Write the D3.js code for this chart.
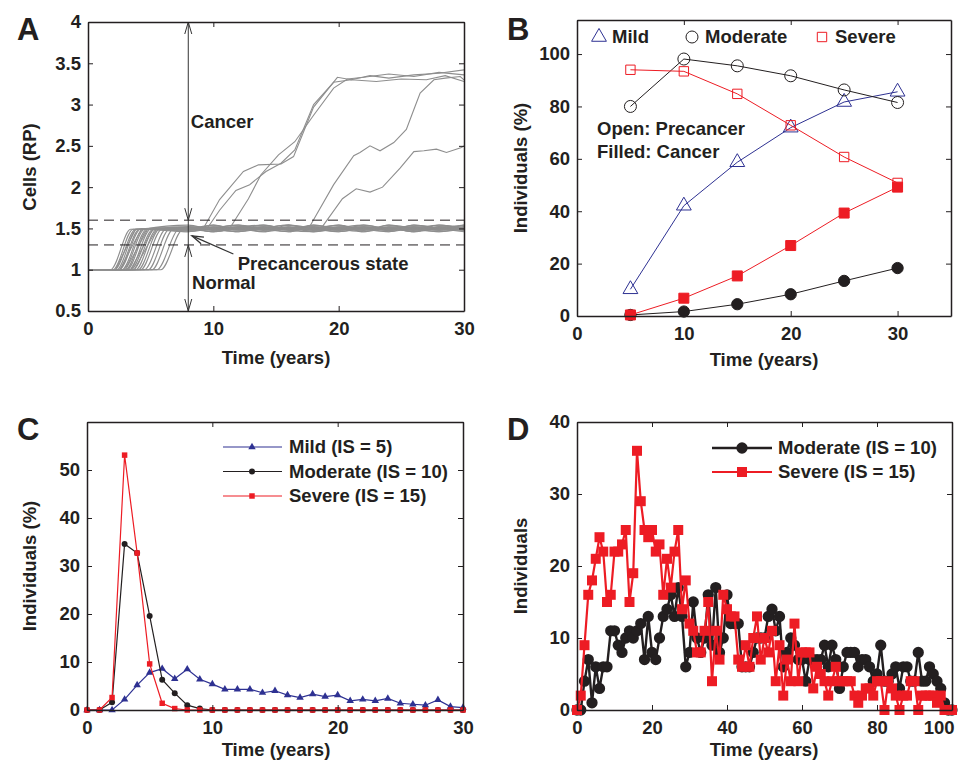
<!DOCTYPE html>
<html>
<head>
<meta charset="utf-8">
<script src="https://d3js.org/d3.v7.min.js"></script>
<style>
  body { margin: 0; background: #fff; }
  svg { font-family: "Liberation Sans", Arial, sans-serif; font-weight: bold; }
</style>
</head>
<body>
<div id="chart"></div>
<script>
// ---------- data ----------
// Panel A: precancer trajectories (rise from normal to the 1.5 plateau)
const riseStart = [1.8, 2.0, 2.1, 2.3, 2.4, 2.5, 2.7, 2.8, 3.0, 3.1, 3.3, 3.4, 3.6, 3.8, 4.0, 4.2, 4.5, 4.8, 5.1, 5.5, 5.8];
const riseEnd   = [3.4, 3.6, 3.8, 3.9, 4.1, 4.2, 4.4, 4.5, 4.7, 4.8, 5.0, 5.2, 5.3, 5.5, 5.7, 5.9, 6.2, 6.5, 6.8, 7.2, 7.6];
const plateauT  = [8, 10, 12, 14, 16, 18, 20, 22, 24, 26, 28, 30];
const plateauV = [
  [1.50,1.48,1.52,1.49,1.51,1.46,1.50,1.52,1.48,1.50,1.54,1.49],
  [1.48,1.51,1.49,1.52,1.48,1.50,1.54,1.49,1.51,1.46,1.50,1.52],
  [1.52,1.49,1.46,1.50,1.54,1.49,1.48,1.51,1.50,1.52,1.48,1.50],
  [1.49,1.52,1.50,1.46,1.50,1.52,1.49,1.46,1.54,1.49,1.51,1.48],
  [1.51,1.46,1.50,1.52,1.49,1.48,1.51,1.54,1.49,1.48,1.52,1.51],
  [1.46,1.50,1.54,1.49,1.46,1.51,1.50,1.48,1.52,1.51,1.49,1.54],
  [1.50,1.54,1.48,1.51,1.50,1.49,1.46,1.50,1.48,1.54,1.50,1.46],
  [1.54,1.49,1.51,1.48,1.52,1.50,1.52,1.49,1.46,1.50,1.48,1.51],
  [1.48,1.50,1.52,1.54,1.48,1.46,1.50,1.51,1.50,1.48,1.54,1.50],
  [1.51,1.48,1.49,1.50,1.46,1.54,1.49,1.48,1.52,1.49,1.46,1.52],
  [1.49,1.51,1.54,1.48,1.50,1.52,1.48,1.52,1.49,1.51,1.50,1.48],
  [1.50,1.46,1.50,1.51,1.54,1.48,1.51,1.50,1.46,1.52,1.51,1.49],
  [1.52,1.50,1.48,1.49,1.51,1.50,1.54,1.46,1.50,1.49,1.48,1.52],
  [1.46,1.52,1.51,1.50,1.49,1.54,1.50,1.49,1.51,1.46,1.52,1.50],
  [1.50,1.49,1.46,1.52,1.50,1.49,1.48,1.54,1.50,1.50,1.49,1.51],
  [1.49,1.51,1.50,1.48,1.52,1.46,1.52,1.50,1.48,1.54,1.50,1.48],
  [1.51,1.50,1.52,1.50,1.48,1.51,1.49,1.48,1.54,1.50,1.46,1.50],
  [1.48,1.54,1.49,1.51,1.50,1.49,1.51,1.52,1.49,1.48,1.51,1.54],
  [1.50,1.48,1.51,1.46,1.54,1.50,1.46,1.50,1.51,1.52,1.50,1.49],
  [1.52,1.50,1.49,1.54,1.49,1.48,1.50,1.49,1.50,1.46,1.52,1.50],
  [1.49,1.46,1.50,1.50,1.51,1.52,1.49,1.51,1.48,1.51,1.49,1.48]
];
// Panel A: trajectories that progress to cancer, [year, RP]
const cancerRuns = [
  [[0,1.0],[2.2,1.0],[3.0,1.25],[3.8,1.49],[6,1.5],[8,1.51],[9.2,1.5],[10.5,1.85],[12.4,2.19],[13.6,2.27],[15.4,2.28],[16.4,2.37],[18,2.97],[19.9,3.33],[21,3.30],[22.5,3.35],[24,3.32],[26,3.36],[28,3.38],[30,3.42]],
  [[0,1.0],[2.6,1.0],[3.4,1.25],[4.3,1.5],[7,1.5],[9.6,1.52],[10.5,1.72],[11.8,1.96],[12.9,2.03],[14.2,2.19],[15.4,2.29],[16.5,2.45],[18,3.0],[19.6,3.27],[21,3.3],[23,3.28],[25,3.31],[27,3.3],[28.5,3.35],[30,3.28]],
  [[0,1.0],[3.0,1.0],[3.9,1.25],[4.8,1.5],[8,1.5],[11.3,1.5],[12.8,1.86],[13.8,2.15],[15.2,2.39],[16.5,2.55],[18,2.87],[19.6,3.2],[20.7,3.31],[22,3.33],[24,3.37],[26,3.34],[28,3.39],[30,3.36]],
  [[0,1.0],[3.4,1.0],[4.3,1.25],[5.2,1.5],[9,1.5],[14,1.49],[17.6,1.5],[19.6,2.03],[21.2,2.38],[21.7,2.42],[22.5,2.5],[23.3,2.44],[24.4,2.54],[25.4,2.7],[26,2.94],[26.5,3.14],[27.6,3.3],[28.5,3.32],[29.7,3.34],[30,3.3]],
  [[0,1.0],[3.7,1.0],[4.6,1.25],[5.5,1.5],[10,1.5],[15,1.51],[18.6,1.5],[20.3,1.86],[21.4,1.98],[22.5,1.94],[23.5,2.0],[24.9,2.23],[26,2.43],[26.8,2.44],[27.8,2.46],[28.6,2.42],[29.8,2.48],[30,2.5]]
];
const cancerLine = 1.6, normalLine = 1.3, markYear = 8;

// Panel B: individuals (%) at each checkpoint
const yearsB = [5, 10, 15, 20, 25, 30];
const mildPre     = [10.2, 42.1, 58.7, 71.9, 81.7, 85.6];
const moderatePre = [80.0, 98.1, 95.5, 91.7, 86.3, 81.5];
const severePre   = [94.0, 93.4, 84.8, 72.8, 60.7, 50.8];
const moderateCan = [0.4, 1.7, 4.5, 8.3, 13.4, 18.3];
const severeCan   = [0.4, 6.8, 15.3, 26.9, 39.3, 49.2];

// Panel C: individuals (%) per year
const yearsC = d3.range(0, 31);
const mildC = [0,0,0,2.2,5.2,7.8,8.6,6.5,8.5,6.4,5.4,4.3,4.3,4.3,3.6,4.0,3.1,2.6,3.3,2.8,3.1,1.9,2.2,1.9,2.4,1.4,1.2,1.0,2.1,0.7,0.5];
const moderateC = [0,0,1.6,34.6,32.7,19.6,6.3,3.5,1.0,0.3,0,0,0,0,0,0,0,0,0,0,0,0,0,0,0,0,0,0,0,0,0];
const severeC = [0,0,2.6,53.1,32.7,9.6,1.4,0.3,0,0,0,0,0,0,0,0,0,0,0,0,0,0,0,0,0,0,0,0,0,0,0];

// Panel D: individuals per year
const yearsD = d3.range(0, 101);
const moderateD = [0,0,4,7,1,6,3,6,6,11, 11,9,8,10,11,10,11,12,7,13, 8,7,10,13,14,16,13,17,13,6,
  8,15,10,8,10,16,9,17,8,10, 16,12,12,12,6,6,6,8,10,10, 10,13,14,11,13,6,8,10,9,7,
  7,4,7,7,7,7,9,6,9,7, 3,6,8,8,8,6,7,7,6,4, 5,9,4,4,5,6,3,6,6,4, 4,8,4,4,6,5,4,3,1,0,0];
const severeD = [0,2,9,16,18,21,24,22,15,16, 22,22,23,25,15,19,36,29,25,24, 25,22,23,16,21,17,22,25,14,18,
  12,11,8,8,11,15,4,11,7,16, 14,13,13,7,6,9,6,10,13,7, 10,8,11,4,9,2,7,4,12,4,
  8,8,8,3,6,5,4,2,4,6, 4,4,4,4,2,1,2,3,3,2, 4,4,0,4,3,2,0,2,2,4, 4,0,2,2,2,2,1,2,0,0,0];

const ticksA = { x: [0, 10, 20, 30], y: [0.5, 1, 1.5, 2, 2.5, 3, 3.5, 4] };
const ticksB = { x: [0, 10, 20, 30], y: [0, 20, 40, 60, 80, 100] };
const ticksC = { x: [0, 10, 20, 30], y: [0, 10, 20, 30, 40, 50] };
const ticksD = { x: [0, 20, 40, 60, 80, 100], y: [0, 10, 20, 30, 40] };

// ---------- drawing ----------
const ink = "#231f20", red = "#ed1c24", blue = "#2e3192", grey = "#8e8e8e";

const svg = d3.select("#chart").append("svg").attr("width", 961).attr("height", 763);

const xA = d3.scaleLinear().domain([0, 30]).range([88, 464]);
const yA = d3.scaleLinear().domain([0.5, 4]).range([311, 22]);
const xB = d3.scaleLinear().domain([0, 35]).range([577, 951]);
const yB = d3.scaleLinear().domain([0, 113]).range([316, 20]);
const xC = d3.scaleLinear().domain([0, 30]).range([87, 463]);
const yC = d3.scaleLinear().domain([0, 60]).range([710, 422]);
const xD = d3.scaleLinear().domain([0, 100]).range([577, 952]);
const yD = d3.scaleLinear().domain([0, 40]).range([710, 422]);

function styleAxis(g) {
  g.attr("font-size", 18.5).attr("font-family", null).attr("font-weight", "bold");
  g.selectAll(".domain").attr("stroke", ink).attr("stroke-width", 1.5);
  g.selectAll(".tick line").attr("stroke", ink);
  g.selectAll(".tick text").attr("fill", ink);
}

function axesBox(x, y, ticks, yFmt) {
  const [x0, x1] = x.range(), [y0, y1] = y.range();
  const bottom = svg.append("g").attr("transform", "translate(0," + y0 + ")")
    .call(d3.axisBottom(x).tickValues(ticks.x).tickSize(-5).tickSizeOuter(0).tickPadding(11))
    .call(styleAxis);
  svg.append("g").attr("transform", "translate(0," + y1 + ")")
    .call(d3.axisTop(x).tickValues(ticks.x).tickSize(-5).tickSizeOuter(0).tickFormat(""))
    .call(styleAxis);
  svg.append("g").attr("transform", "translate(" + x0 + ",0)")
    .call(d3.axisLeft(y).tickValues(ticks.y).tickSize(-5).tickSizeOuter(0).tickPadding(7).tickFormat(yFmt || (d => d)))
    .call(styleAxis);
  svg.append("g").attr("transform", "translate(" + x1 + ",0)")
    .call(d3.axisRight(y).tickValues(ticks.y).tickSize(-5).tickSizeOuter(0).tickFormat(""))
    .call(styleAxis);
  return bottom;
}

function labels(letter, lx, ly, yTitle, tx, ty, xTitle, cx, cy) {
  svg.append("text").attr("x", lx).attr("y", ly).attr("font-size", 31).attr("fill", ink).text(letter);
  svg.append("text").attr("transform", "translate(" + tx + "," + ty + ") rotate(-90)")
    .attr("text-anchor", "middle").attr("dy", "0.35em").attr("font-size", 18.5).attr("fill", ink).text(yTitle);
  svg.append("text").attr("x", cx).attr("y", cy).attr("text-anchor", "middle").attr("dy", "0.35em")
    .attr("font-size", 18.5).attr("fill", ink).text(xTitle);
}

function arrowHead(g, x, y, dir, len, half) {
  // dir = -1 points up, +1 points down
  g.append("path")
    .attr("d", "M" + (x - half) + "," + (y - dir * len) + "L" + x + "," + y + "L" + (x + half) + "," + (y - dir * len))
    .attr("fill", "none").attr("stroke", "#333").attr("stroke-width", 1);
}

// ----- Panel A -----
const smoothA = d3.line().x(d => xA(d[0])).y(d => yA(d[1])).curve(d3.curveMonotoneX);
const lineA = d3.line().x(d => xA(d[0])).y(d => yA(d[1]));
const gA = svg.append("g");
riseStart.forEach((s, i) => {
  const pts = [[0, 1.0], [s, 1.0], [riseEnd[i], 1.49]].concat(plateauT.map((t, j) => [t, plateauV[i][j]]));
  gA.append("path").attr("d", smoothA(pts)).attr("fill", "none").attr("stroke", grey).attr("stroke-width", 1.1);
});
cancerRuns.forEach(run => {
  gA.append("path").attr("d", lineA(run)).attr("fill", "none").attr("stroke", grey).attr("stroke-width", 1.1);
});
[cancerLine, normalLine].forEach(v => {
  gA.append("line").attr("x1", xA(0)).attr("x2", xA(30)).attr("y1", yA(v)).attr("y2", yA(v))
    .attr("stroke", ink).attr("stroke-width", 1).attr("stroke-dasharray", "10,6");
});
const mx = xA(markYear);
gA.append("line").attr("x1", mx).attr("x2", mx).attr("y1", yA(4)).attr("y2", yA(0.5))
  .attr("stroke", "#333").attr("stroke-width", 1);
arrowHead(gA, mx, yA(4), -1, 12, 3.5);
arrowHead(gA, mx, yA(cancerLine), 1, 12, 3.5);
arrowHead(gA, mx, yA(normalLine), -1, 12, 3.5);
arrowHead(gA, mx, yA(0.5), 1, 12, 3.5);
// pointer to the precancerous plateau
const px0 = xA(11.6), py0 = yA(1.19), px1 = xA(8.3), py1 = yA(1.41);
gA.append("line").attr("x1", px0).attr("y1", py0).attr("x2", px1).attr("y2", py1).attr("stroke", "#333").attr("stroke-width", 1.3);
const ang = Math.atan2(py0 - py1, px0 - px1);
gA.append("path")
  .attr("d", "M" + (px1 + 12 * Math.cos(ang - 0.3)) + "," + (py1 + 12 * Math.sin(ang - 0.3)) +
             "L" + px1 + "," + py1 +
             "L" + (px1 + 12 * Math.cos(ang + 0.3)) + "," + (py1 + 12 * Math.sin(ang + 0.3)))
  .attr("fill", "none").attr("stroke", "#333").attr("stroke-width", 1.3);
gA.append("text").attr("x", xA(8.2)).attr("y", yA(2.79)).attr("dy", "0.35em").attr("font-size", 18.5).attr("fill", ink).text("Cancer");
gA.append("text").attr("x", xA(8.3)).attr("y", yA(0.85)).attr("dy", "0.35em").attr("font-size", 18.5).attr("fill", ink).text("Normal");
gA.append("text").attr("x", xA(11.95)).attr("y", yA(1.07)).attr("dy", "0.35em").attr("font-size", 18.5).attr("fill", ink).text("Precancerous state");
axesBox(xA, yA, ticksA);
labels("A", 17, 40, "Cells (RP)", 30, 167, "Time (years)", 276, 358);

// ----- Panel B -----
const lineB = d3.line().x((d, i) => xB(yearsB[i])).y(d => yB(d));
const gB = svg.append("g");
const seriesB = [
  { v: mildPre, color: blue, sym: d3.symbolTriangle, size: 95, filled: false },
  { v: moderatePre, color: ink, sym: d3.symbolCircle, size: 113, filled: false },
  { v: severePre, color: red, sym: d3.symbolSquare, size: 88, filled: false },
  { v: moderateCan, color: ink, sym: d3.symbolCircle, size: 100, filled: true },
  { v: severeCan, color: red, sym: d3.symbolSquare, size: 100, filled: true }
];
seriesB.forEach(s => {
  gB.append("path").attr("d", lineB(s.v)).attr("fill", "none").attr("stroke", s.color).attr("stroke-width", 1);
  gB.selectAll(null).data(s.v).enter().append("path")
    .attr("transform", (d, i) => "translate(" + xB(yearsB[i]) + "," + yB(d) + ")")
    .attr("d", d3.symbol(s.sym, s.size))
    .attr("fill", s.filled ? s.color : "none")
    .attr("stroke", s.color).attr("stroke-width", 1);
});
const legB = [
  { name: "Mild", color: blue, sym: d3.symbolTriangle, size: 95, x: 599 },
  { name: "Moderate", color: ink, sym: d3.symbolCircle, size: 113, x: 692 },
  { name: "Severe", color: red, sym: d3.symbolSquare, size: 88, x: 822 }
];
legB.forEach(l => {
  gB.append("path").attr("transform", "translate(" + l.x + ",37)").attr("d", d3.symbol(l.sym, l.size))
    .attr("fill", "none").attr("stroke", l.color).attr("stroke-width", 1);
  gB.append("text").attr("x", l.x + 13).attr("y", 37).attr("dy", "0.35em").attr("font-size", 18.5).attr("fill", ink).text(l.name);
});
gB.append("text").attr("x", 597).attr("y", 129).attr("dy", "0.35em").attr("font-size", 18.5).attr("fill", ink).text("Open: Precancer");
gB.append("text").attr("x", 597).attr("y", 152).attr("dy", "0.35em").attr("font-size", 18.5).attr("fill", ink).text("Filled: Cancer");
axesBox(xB, yB, ticksB);
labels("B", 507, 40, "Individuals (%)", 521, 168, "Time (years)", 764, 360);

// ----- Panel C -----
const lineC = d3.line().x((d, i) => xC(yearsC[i])).y(d => yC(d));
const gC = svg.append("g");
const seriesC = [
  { name: "Mild (IS = 5)", v: mildC, color: blue, sym: d3.symbolTriangle, size: 24 },
  { name: "Moderate (IS = 10)", v: moderateC, color: ink, sym: d3.symbolCircle, size: 28 },
  { name: "Severe (IS = 15)", v: severeC, color: red, sym: d3.symbolSquare, size: 30 }
];
seriesC.forEach((s, k) => {
  gC.append("path").attr("d", lineC(s.v)).attr("fill", "none").attr("stroke", s.color).attr("stroke-width", 1.2);
  gC.selectAll(null).data(s.v).enter().append("path")
    .attr("transform", (d, i) => "translate(" + xC(yearsC[i]) + "," + yC(d) + ")")
    .attr("d", d3.symbol(s.sym, s.size)).attr("fill", s.color);
  const ly = 447 + k * 24.5;
  gC.append("line").attr("x1", 223).attr("x2", 282).attr("y1", ly).attr("y2", ly).attr("stroke", s.color).attr("stroke-width", 1.2);
  gC.append("path").attr("transform", "translate(252," + ly + ")").attr("d", d3.symbol(s.sym, s.size)).attr("fill", s.color);
  gC.append("text").attr("x", 289).attr("y", ly).attr("dy", "0.35em").attr("font-size", 18.5).attr("fill", ink).text(s.name);
});
axesBox(xC, yC, ticksC);
labels("C", 17, 440, "Individuals (%)", 30, 566, "Time (years)", 276, 750);

// ----- Panel D -----
const lineD = d3.line().x((d, i) => xD(yearsD[i])).y(d => yD(d));
const gD = svg.append("g");
const seriesD = [
  { name: "Moderate (IS = 10)", v: moderateD, color: ink, sym: d3.symbolCircle, size: 100, w: 2.4 },
  { name: "Severe (IS = 15)", v: severeD, color: red, sym: d3.symbolSquare, size: 100, w: 2.2 }
];
seriesD.forEach((s, k) => {
  gD.append("path").attr("d", lineD(s.v)).attr("fill", "none").attr("stroke", s.color).attr("stroke-width", s.w);
  gD.selectAll(null).data(s.v).enter().append("path")
    .attr("transform", (d, i) => "translate(" + xD(yearsD[i]) + "," + yD(d) + ")")
    .attr("d", d3.symbol(s.sym, s.size)).attr("fill", s.color);
  const ly = 448 + k * 24;
  gD.append("line").attr("x1", 712).attr("x2", 772).attr("y1", ly).attr("y2", ly).attr("stroke", s.color).attr("stroke-width", s.w);
  gD.append("path").attr("transform", "translate(742," + ly + ")").attr("d", d3.symbol(s.sym, s.size)).attr("fill", s.color);
  gD.append("text").attr("x", 778).attr("y", ly).attr("dy", "0.35em").attr("font-size", 18.5).attr("fill", ink).text(s.name);
});
const bottomD = axesBox(xD, yD, ticksD);
// keep the last D tick label inside the figure
bottomD.selectAll(".tick text").filter(d => d === 100).attr("text-anchor", "end").attr("dx", 2);
labels("D", 507, 440, "Individuals", 521, 566, "Time (years)", 764, 750);
</script>
</body>
</html>
